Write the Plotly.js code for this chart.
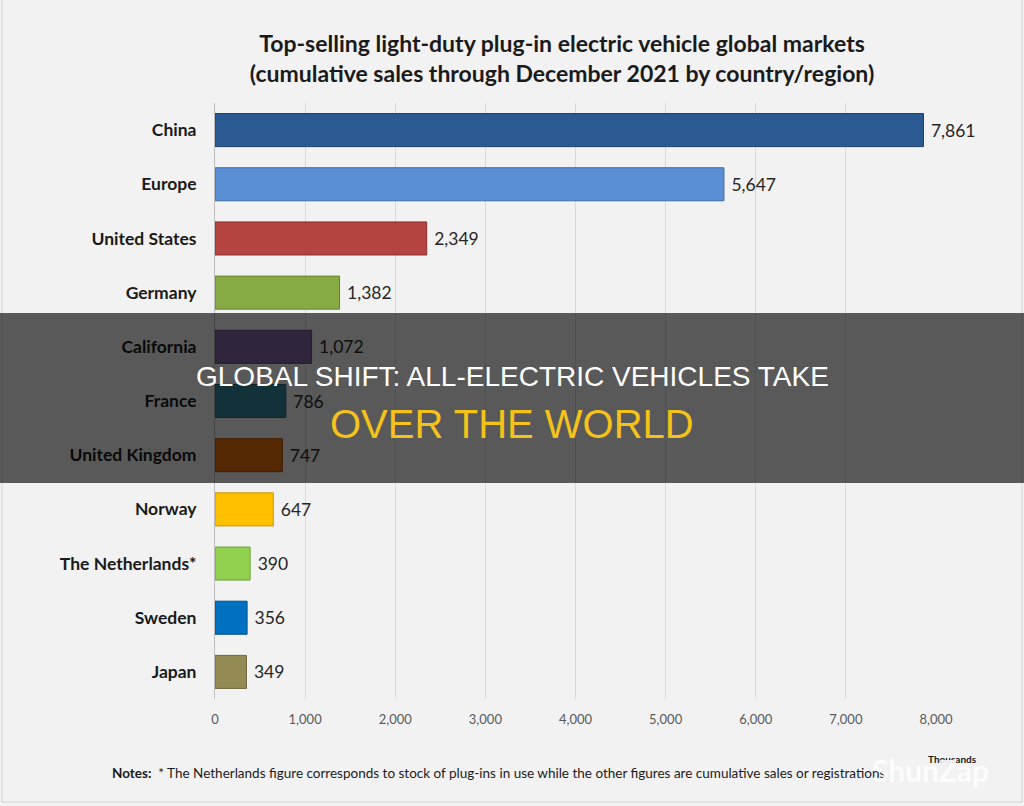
<!DOCTYPE html>
<html>
<head>
<meta charset="utf-8">
<script src="https://cdn.plot.ly/plotly-3.0.1.min.js"></script>
<style>
  html, body { margin: 0; padding: 0; background: #f2f2f2; }
  #chart { width: 1024px; height: 806px; }
</style>
</head>
<body>
<div id="chart"></div>
<script>
const categories = ['China', 'Europe', 'United States', 'Germany', 'California', 'France',
  'United Kingdom', 'Norway', 'The Netherlands*', 'Sweden', 'Japan'];
const sales = [7861, 5647, 2349, 1382, 1072, 786, 747, 647, 390, 356, 349];
const barColors = ['#2b5a92', '#5a8fd6', '#b5433f', '#88aa44', '#8064a2', '#31859c',
  '#e46c0a', '#ffc000', '#92d050', '#0070c0', '#948a54'];
const edgeColors = ['#1c3d66', '#3d6aa8', '#8a2e2b', '#62802c', '#5c4679', '#215e6f',
  '#a84f07', '#c99700', '#6ea23a', '#004f8a', '#6f683d'];
const xTickVals = [0, 1000, 2000, 3000, 4000, 5000, 6000, 7000, 8000];
const xTickText = ['0', '1,000', '2,000', '3,000', '4,000', '5,000', '6,000', '7,000', '8,000'];
const titleLines = ['Top-selling light-duty plug-in electric vehicle global markets',
  '(cumulative sales through December 2021 by country/region)'];
const noteText = '<b>Notes:</b>  * The Netherlands figure corresponds to stock of plug-ins in use while the other figures are cumulative sales or registrations';
const overlayLine1 = 'GLOBAL SHIFT: ALL-ELECTRIC VEHICLES TAKE';
const overlayLine2 = 'OVER THE WORLD';

const W = 1024, H = 806;
const plotL = 215, plotR = 936, plotT = 103, plotB = 699;
const px = x => (x - plotL) / (plotR - plotL);
const py = y => (plotB - y) / (plotB - plotT);

const fontMain = 'Lato, "Open Sans", "Liberation Sans", sans-serif';
const fontNarrow = '"Liberation Sans Narrow", "Liberation Sans", Arial, sans-serif';

const trace = {
  type: 'bar',
  orientation: 'h',
  y: categories,
  x: sales,
  text: sales.map(v => '\u00a0' + v.toLocaleString('en-US')),
  textposition: 'outside',
  textfont: { family: fontMain, size: 17.5, color: '#262626' },
  cliponaxis: false,
  constraintext: 'none',
  marker: { color: barColors, line: { color: edgeColors, width: 1 } },
  hoverinfo: 'skip'
};

const layout = {
  width: W, height: H,
  paper_bgcolor: '#f2f2f2',
  plot_bgcolor: '#f2f2f2',
  margin: { l: plotL, r: W - plotR, t: plotT, b: H - plotB },
  showlegend: false,
  bargap: 0.39,
  title: {
    text: '<b>' + titleLines[0] + '</b><br><b>' + titleLines[1] + '</b>',
    font: { family: fontMain, size: 23, color: '#1a1a1a' },
    x: 562 / W, xanchor: 'center', xref: 'container',
    y: 1 - 52 / H, yanchor: 'middle', yref: 'container'
  },
  xaxis: {
    range: [0, 8000],
    tickvals: xTickVals,
    ticktext: xTickText,
    tickfont: { family: fontMain, size: 13, color: '#595959' },
    showgrid: true, gridcolor: '#d9d9d9', gridwidth: 1,
    zeroline: false, showline: false, ticks: '',
    ticklabelstandoff: 11,
    fixedrange: true
  },
  yaxis: {
    autorange: 'reversed',
    tickfont: { family: fontMain, size: 17.5, color: '#1a1a1a', weight: 'bold' },
    showgrid: false, zeroline: false,
    showline: true, linecolor: '#bfbfbf', linewidth: 1,
    ticks: '', ticklabelstandoff: 14,
    fixedrange: true
  },
  shapes: [
    { type: 'rect', xref: 'paper', yref: 'paper', layer: 'above',
      x0: px(-5), x1: px(W + 5), y0: py(483), y1: py(313),
      fillcolor: 'rgba(0,0,0,0.63)', line: { width: 0 } },
    { type: 'rect', xref: 'paper', yref: 'paper', layer: 'below',
      x0: px(2), x1: px(1022), y0: py(802), y1: py(-2),
      fillcolor: 'rgba(0,0,0,0)', line: { color: '#d4d4d4', width: 1 } }
  ],
  annotations: [
    { xref: 'paper', yref: 'paper', x: px(110), y: py(773), xanchor: 'left', yanchor: 'middle',
      text: noteText, showarrow: false,
      font: { family: fontMain, size: 13.5, color: '#1a1a1a' } },
    { xref: 'paper', yref: 'paper', x: px(952), y: py(759), xanchor: 'center', yanchor: 'middle',
      text: '<b>Thousands</b>', showarrow: false,
      font: { family: fontMain, size: 10, color: '#1a1a1a' } },
    { xref: 'paper', yref: 'paper', x: px(930), y: py(770), xanchor: 'center', yanchor: 'middle',
      text: '<b>ShunZap</b>', showarrow: false, opacity: 0.85,
      font: { family: fontMain, size: 30, color: '#ffffff' } },
    { xref: 'paper', yref: 'paper', x: px(512), y: py(377), xanchor: 'center', yanchor: 'middle',
      text: overlayLine1, showarrow: false,
      font: { family: fontNarrow, size: 28, color: '#ffffff' } },
    { xref: 'paper', yref: 'paper', x: px(512), y: py(424), xanchor: 'center', yanchor: 'middle',
      text: overlayLine2, showarrow: false,
      font: { family: fontNarrow, size: 40, color: '#f5c21b' } }
  ]
};

Plotly.newPlot('chart', [trace], layout, { displayModeBar: false, staticPlot: true });
</script>
</body>
</html>
